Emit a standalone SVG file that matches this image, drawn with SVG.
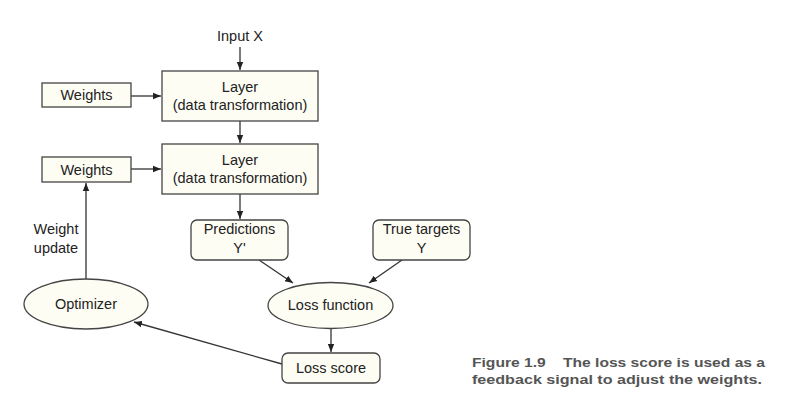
<svg xmlns="http://www.w3.org/2000/svg" width="795" height="412" viewBox="0 0 795 412">
<defs>
<style>
.box{fill:#fdfdf4;stroke:#444;stroke-width:1.3}
.t{font-family:"Liberation Sans",Arial,sans-serif;font-size:14.5px;fill:#222;text-anchor:middle}
.ln{stroke:#333;stroke-width:1.3;fill:none}
.cap{font-family:"Liberation Sans",Arial,sans-serif;font-size:12.5px;font-weight:bold;fill:#555}
</style>
<marker id="ah" viewBox="0 0 10 10" refX="10" refY="5" markerWidth="8" markerHeight="8" markerUnits="userSpaceOnUse" orient="auto">
<path d="M0,1 L10,5 L0,9 Z" fill="#222"/>
</marker>
</defs>
<rect width="795" height="412" fill="#fff"/>
<g id="connectors">
<line class="ln" x1="240" y1="47" x2="240" y2="70" marker-end="url(#ah)"/>
<line class="ln" x1="131" y1="96" x2="161" y2="96" marker-end="url(#ah)"/>
<line class="ln" x1="240" y1="121" x2="240" y2="143" marker-end="url(#ah)"/>
<line class="ln" x1="131" y1="169" x2="161" y2="169" marker-end="url(#ah)"/>
<line class="ln" x1="240" y1="194" x2="240" y2="219" marker-end="url(#ah)"/>
<line class="ln" x1="259" y1="260" x2="293" y2="283" marker-end="url(#ah)"/>
<line class="ln" x1="402" y1="260" x2="369" y2="283" marker-end="url(#ah)"/>
<line class="ln" x1="331" y1="328" x2="331" y2="352" marker-end="url(#ah)"/>
<line class="ln" x1="282" y1="364" x2="134" y2="322" marker-end="url(#ah)"/>
<line class="ln" x1="86" y1="279" x2="86" y2="183" marker-end="url(#ah)"/>
</g>
<g id="input"><text class="t" x="240" y="41">Input X</text></g>
<g id="layer1">
<rect class="box" x="162" y="71" width="156" height="50"/>
<text class="t" x="240" y="92">Layer</text>
<text class="t" x="240" y="110">(data transformation)</text>
</g>
<g id="weights1">
<rect class="box" x="42" y="83" width="89" height="24"/>
<text class="t" x="86.5" y="100">Weights</text>
</g>
<g id="layer2">
<rect class="box" x="162" y="144" width="156" height="50"/>
<text class="t" x="240" y="165">Layer</text>
<text class="t" x="240" y="183">(data transformation)</text>
</g>
<g id="weights2">
<rect class="box" x="42" y="157" width="89" height="25"/>
<text class="t" x="86.5" y="175">Weights</text>
</g>
<g id="weightupdate">
<text class="t" x="56" y="234">Weight</text>
<text class="t" x="56" y="253">update</text>
</g>
<g id="predictions">
<rect class="box" x="191" y="220" width="97" height="40" rx="6"/>
<text class="t" x="239.5" y="234">Predictions</text>
<text class="t" x="239.5" y="253">Y'</text>
</g>
<g id="truetargets">
<rect class="box" x="373" y="220" width="97" height="40" rx="6"/>
<text class="t" x="421.5" y="234">True targets</text>
<text class="t" x="421.5" y="253">Y</text>
</g>
<g id="optimizer">
<ellipse class="box" cx="86" cy="304" rx="62" ry="25"/>
<text class="t" x="86" y="309">Optimizer</text>
</g>
<g id="lossfunction">
<ellipse class="box" cx="330.5" cy="305.5" rx="62.5" ry="23"/>
<text class="t" x="330.5" y="310">Loss function</text>
</g>
<g id="lossscore">
<rect class="box" x="282" y="353" width="98" height="30" rx="6"/>
<text class="t" x="331" y="373">Loss score</text>
</g>
<g id="caption">
<text class="cap" x="472" y="367" textLength="293" lengthAdjust="spacingAndGlyphs" xml:space="preserve">Figure 1.9    The loss score is used as a</text>
<text class="cap" x="472" y="384" textLength="290" lengthAdjust="spacingAndGlyphs">feedback signal to adjust the weights.</text>
</g>
</svg>
